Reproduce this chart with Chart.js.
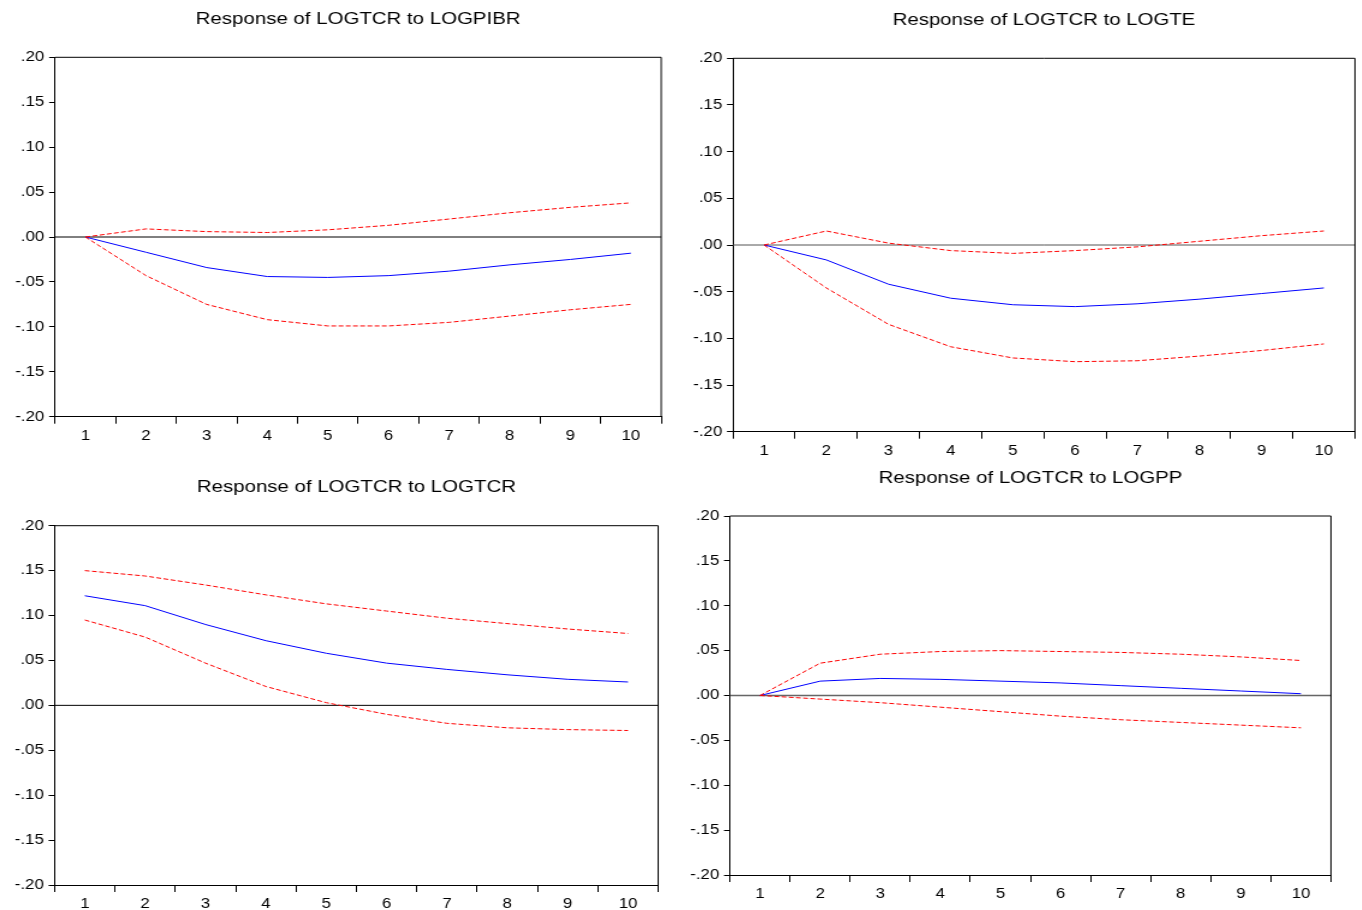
<!DOCTYPE html>
<html>
<head>
<meta charset="utf-8">
<title>Impulse responses of LOGTCR</title>
<script src="https://cdn.jsdelivr.net/npm/chart.js@4.4.0/dist/chart.umd.min.js"></script>
<style>
	html, body { margin: 0; padding: 0; background: #fff; }
	body { width: 1362px; height: 910px; position: relative; overflow: hidden; }
	.panel { position: absolute; transform-origin: 0 0; }
	.panel canvas { display: block; }
</style>
</head>
<body>
<div class="panel" id="wrapPibr"><canvas id="chartPibr"></canvas></div>
<div class="panel" id="wrapTe"><canvas id="chartTe"></canvas></div>
<div class="panel" id="wrapTcr"><canvas id="chartTcr"></canvas></div>
<div class="panel" id="wrapPp"><canvas id="chartPp"></canvas></div>
<script>
// Periods after the shock
let periods = ['1', '2', '3', '4', '5', '6', '7', '8', '9', '10'];

// Shared vertical scale
let yMin = -0.20;
let yMax = 0.20;
let yStep = 0.05;

// Response of LOGTCR to LOGPIBR
let pibrResponse = [0, -0.017, -0.034, -0.044, -0.045, -0.043, -0.038, -0.031, -0.025, -0.018];
let pibrUpper = [0, 0.009, 0.006, 0.005, 0.008, 0.013, 0.020, 0.027, 0.033, 0.038];
let pibrLower = [0, -0.043, -0.075, -0.092, -0.099, -0.099, -0.095, -0.088, -0.081, -0.075];

// Response of LOGTCR to LOGTE
let teResponse = [0, -0.016, -0.042, -0.057, -0.064, -0.066, -0.063, -0.058, -0.052, -0.046];
let teUpper = [0, 0.015, 0.002, -0.006, -0.009, -0.006, -0.002, 0.004, 0.010, 0.015];
let teLower = [0, -0.046, -0.085, -0.109, -0.121, -0.125, -0.124, -0.119, -0.113, -0.106];

// Response of LOGTCR to LOGTCR
let tcrResponse = [0.122, 0.111, 0.090, 0.072, 0.058, 0.047, 0.040, 0.034, 0.029, 0.026];
let tcrUpper = [0.150, 0.144, 0.134, 0.123, 0.113, 0.105, 0.097, 0.091, 0.085, 0.080];
let tcrLower = [0.095, 0.076, 0.047, 0.021, 0.003, -0.010, -0.020, -0.025, -0.027, -0.028];

// Response of LOGTCR to LOGPP
let ppResponse = [0, 0.016, 0.019, 0.018, 0.016, 0.014, 0.011, 0.008, 0.005, 0.002];
let ppUpper = [0, 0.036, 0.046, 0.049, 0.050, 0.049, 0.048, 0.046, 0.043, 0.039];
let ppLower = [0, -0.004, -0.008, -0.013, -0.018, -0.023, -0.027, -0.030, -0.033, -0.036];

// The picture is drawn a little wider than tall, so every panel is stretched sideways
const stretch = 1.2;
const fontFamily = "Arial, 'Liberation Sans', sans-serif";

// Panel boxes on the page and the plot area inside each (page pixels)
let panels = [
	{
		id: 'Pibr', title: 'Response of LOGTCR to LOGPIBR',
		box: { left: 0, top: 0, width: 680, height: 470 },
		plot: { left: 55, right: 660, top: 57.3, bottom: 416.7 },
		series: [pibrResponse, pibrUpper, pibrLower],
		zeroColor: '#000', zeroWidth: 1,
	},
	{
		id: 'Te', title: 'Response of LOGTCR to LOGTE',
		box: { left: 680, top: 0, width: 682, height: 470 },
		plot: { left: 733, right: 1355, top: 58.3, bottom: 431.7 },
		series: [teResponse, teUpper, teLower],
		zeroColor: '#555', zeroWidth: 1,
	},
	{
		id: 'Tcr', title: 'Response of LOGTCR to LOGTCR',
		box: { left: 0, top: 460, width: 680, height: 450 },
		plot: { left: 54.5, right: 657, top: 525.7, bottom: 885 },
		series: [tcrResponse, tcrUpper, tcrLower],
		zeroColor: '#000', zeroWidth: 1,
	},
	{
		id: 'Pp', title: 'Response of LOGTCR to LOGPP',
		box: { left: 680, top: 460, width: 682, height: 450 },
		plot: { left: 730, right: 1331, top: 516, bottom: 875 },
		series: [ppResponse, ppUpper, ppLower],
		zeroColor: '#666', zeroWidth: 1.5,
	},
];

// Frame, zero line and title
const panelDecor = {
	id: 'panelDecor',
	beforeDatasetsDraw(chart, args, opts) {
		let { ctx, chartArea: a, scales: { y } } = chart;
		let y0 = y.getPixelForValue(0);
		ctx.save();
		ctx.strokeStyle = opts.zeroColor;
		ctx.lineWidth = opts.zeroWidth;
		ctx.beginPath();
		ctx.moveTo(a.left, y0);
		ctx.lineTo(a.right, y0);
		ctx.stroke();
		ctx.restore();
	},
	afterDraw(chart, args, opts) {
		let { ctx, chartArea: a } = chart;
		ctx.save();
		ctx.strokeStyle = '#000';
		ctx.lineWidth = 1;
		ctx.beginPath();
		ctx.moveTo(a.left, a.top);
		ctx.lineTo(a.right, a.top);
		ctx.lineTo(a.right, a.bottom);
		ctx.stroke();
		ctx.fillStyle = '#000';
		ctx.font = `17px ${fontFamily}`;
		ctx.textAlign = 'center';
		ctx.textBaseline = 'middle';
		ctx.fillText(opts.text, (a.left + a.right) / 2, a.top - 38);
		ctx.restore();
	}
};

function formatTick(v) {
	if (Math.abs(v) < 1e-9) v = 0;
	return (v < 0 ? '-' : '') + Math.abs(v).toFixed(2).slice(1);
}

function makeChart(p) {
	let wrap = document.querySelector('#wrap' + p.id);
	let w = p.box.width / stretch;
	wrap.style.left = p.box.left + 'px';
	wrap.style.top = p.box.top + 'px';
	wrap.style.width = w + 'px';
	wrap.style.height = p.box.height + 'px';
	wrap.style.transform = `scaleX(${stretch})`;

	let yAxisWidth = (p.plot.left - p.box.left) / stretch;
	let rightPad = w - (p.plot.right - p.box.left) / stretch;
	let topPad = p.plot.top - p.box.top;
	let xAxisHeight = p.box.height - (p.plot.bottom - p.box.top);

	let [response, upper, lower] = p.series;
	let tickFont = { family: fontFamily, size: 14 };

	return new Chart(document.querySelector('#chart' + p.id), {
		type: 'line',
		data: {
			labels: periods,
			datasets: [
				{ data: upper, borderColor: '#ff0000', borderWidth: 1, borderDash: [4, 2] },
				{ data: lower, borderColor: '#ff0000', borderWidth: 1, borderDash: [4, 2] },
				{ data: response, borderColor: '#0000ff', borderWidth: 1 },
			]
		},
		options: {
			maintainAspectRatio: false,
			responsive: true,
			devicePixelRatio: 1,
			animation: false,
			events: [],
			elements: { point: { radius: 0 }, line: { tension: 0 } },
			layout: { padding: { left: 0, top: topPad, right: rightPad, bottom: 0 } },
			plugins: {
				legend: { display: false },
				tooltip: { enabled: false },
				panelDecor: { text: p.title, zeroColor: p.zeroColor, zeroWidth: p.zeroWidth },
			},
			scales: {
				x: {
					type: 'category',
					offset: true,
					grid: { offset: true, drawOnChartArea: false, tickLength: 7, color: '#000' },
					border: { color: '#000', width: 1 },
					ticks: { color: '#000', font: tickFont, padding: 4, maxRotation: 0, autoSkip: false },
					afterFit: s => { s.height = xAxisHeight; },
				},
				y: {
					min: yMin,
					max: yMax,
					grid: { drawOnChartArea: false, tickLength: 5, color: '#000' },
					border: { color: '#000', width: 1 },
					ticks: { stepSize: yStep, color: '#000', font: tickFont, padding: 4, callback: formatTick },
					afterFit: s => { s.width = yAxisWidth; },
				}
			}
		},
		plugins: [panelDecor]
	});
}

let charts = {};
window.onload = () => {
	for (let p of panels) charts[p.id] = makeChart(p);
};
</script>
</body>
</html>
